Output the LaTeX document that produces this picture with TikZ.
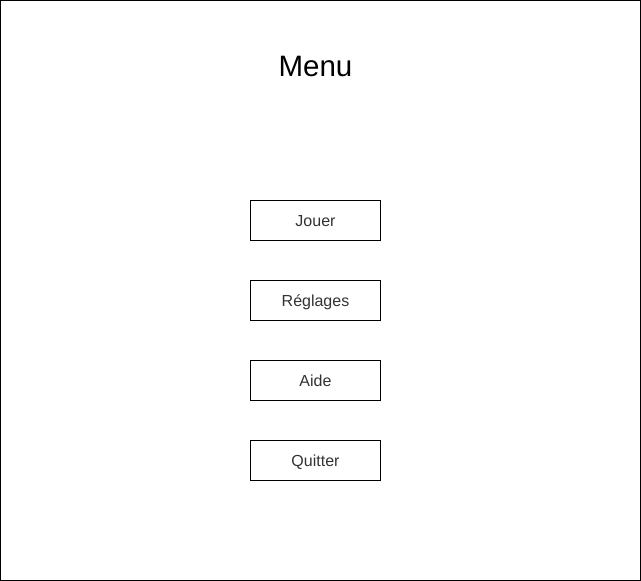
\documentclass[tikz,border=0pt]{standalone}
\usepackage{fontspec}
\setmainfont{Liberation Sans}
\usetikzlibrary{positioning}
\definecolor{InkGray}{HTML}{333333}
\newcommand{\TitleFont}{\fontsize{29.5pt}{29.5pt}\selectfont}

\begin{document}
\begin{tikzpicture}[x=1pt, y=-1pt, line width=1pt,
    menubtn/.style={draw=black, fill=white, minimum width=130pt, minimum height=40pt,
      inner sep=0pt, outer sep=0pt, text height=14pt, text depth=3pt,
      text=InkGray, font=\fontsize{16pt}{16pt}\selectfont}]
  \useasboundingbox (0,0) rectangle (641,581);
  % screen frame
  \draw (0.5,0.5) rectangle (640.5,580.5);
  \node[font=\TitleFont, anchor=base, inner sep=0pt] (title) at (315.5,76) {Menu};
  % buttons
  \node[menubtn] (jouer) at (315.5,220.5) {Jouer};
  \node[menubtn, below=40pt of jouer] (reglages) {Réglages};
  \node[menubtn, below=40pt of reglages] (aide) {Aide};
  \node[menubtn, below=40pt of aide] (quitter) {Quitter};
\end{tikzpicture}
\end{document}
